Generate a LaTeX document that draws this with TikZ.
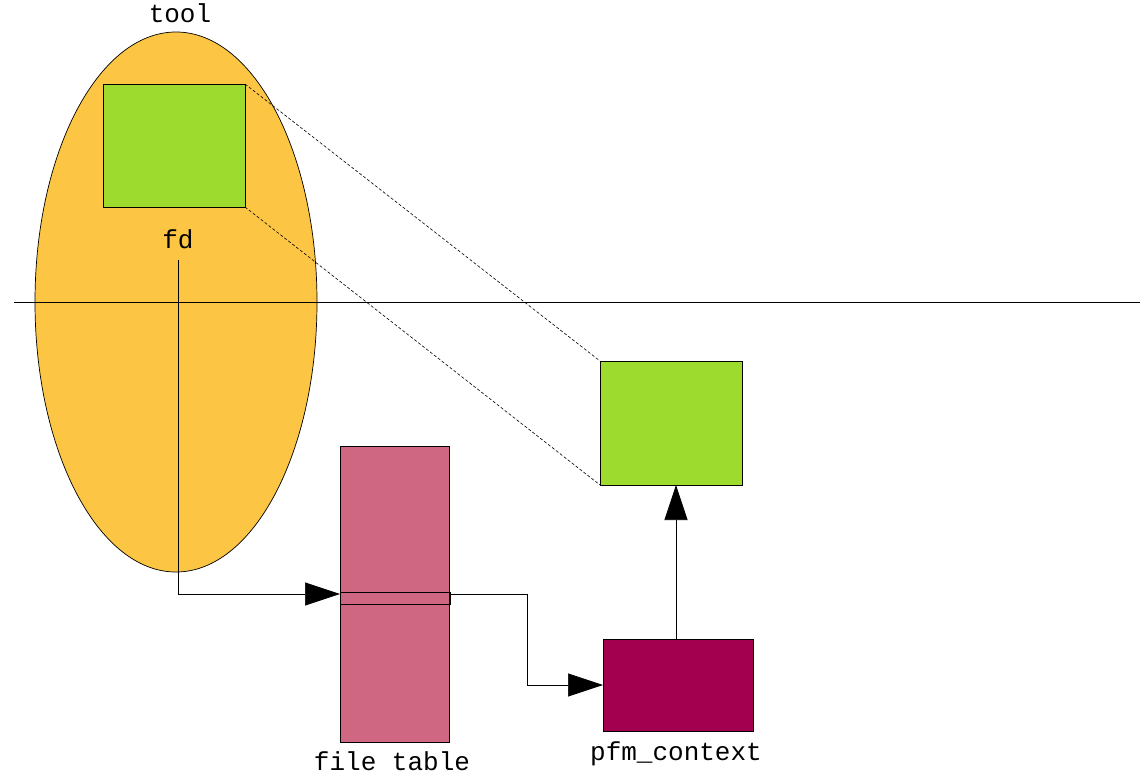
\documentclass[tikz,border=0pt]{standalone}
\usepackage{fontspec}
\setmonofont{Liberation Mono}
\usetikzlibrary{arrows.meta,shapes.geometric}
\definecolor{toolc}{RGB}{252,197,67}
\definecolor{greenc}{RGB}{157,220,46}
\definecolor{pinkc}{RGB}{207,103,130}
\definecolor{maroonc}{RGB}{163,0,79}
\tikzset{
  box/.style={draw=black, line width=0.7pt, inner sep=0pt, outer sep=0pt, anchor=north west},
  lbl/.style={font=\ttfamily\fontsize{26}{28}\selectfont, inner sep=0pt, anchor=base},
  conn/.style={line width=0.7pt, -{Triangle[length=35pt,width=23pt]}},
  dashline/.style={dash pattern=on 3pt off 2pt, line width=0.6pt}
}
\begin{document}
\begin{tikzpicture}[x=1pt,y=-1pt]
\useasboundingbox (0,0) rectangle (1140,776);
% tool ellipse
\node[draw=black, line width=0.7pt, fill=toolc, ellipse, minimum width=282pt, minimum height=540pt, inner sep=0pt] (tool) at (176,302) {};
\node[lbl] (toollbl) at (180,23) {tool};
\node[box, fill=greenc, minimum width=142pt, minimum height=123pt] (g1) at (103,84) {};
\node[lbl] (fd) at (178,248) {fd};
\coordinate (fdtop) at (178,260);
% separator line
\coordinate (sepL) at (14,302);
\coordinate (sepR) at (1140,302);
\draw[line width=0.7pt] (sepL) -- (sepR);
% lower green
\node[box, fill=greenc, minimum width=142pt, minimum height=124pt] (g2) at (600,361) {};
\draw[dashline] (g1.north east) -- (g2.north west);
\draw[dashline] (g1.south east) -- (g2.south west);
% file table
\node[box, fill=pinkc, minimum width=109pt, minimum height=296pt] (ft) at (340,446) {};
\node[box, minimum width=110pt, minimum height=12pt] (slot) at (340,592) {};
\node[lbl] (ftlbl) at (392,770) {file table};
% pfm context
\node[box, fill=maroonc, minimum width=150pt, minimum height=92pt] (pfm) at (603,639) {};
\node[lbl] (pfmlbl) at (676,760) {pfm\_context};
% connectors
\coordinate (inpt) at (340,594);
\coordinate (outpt) at (450,594);
\coordinate (jog) at (527,0);
\coordinate (upx) at (676,0);
\draw[conn] (fdtop) |- (inpt);
\draw[conn] (outpt) -- (outpt -| jog) |- (pfm.west);
\draw[conn] (pfm.north -| upx) -- (g2.south -| upx);
\end{tikzpicture}
\end{document}
